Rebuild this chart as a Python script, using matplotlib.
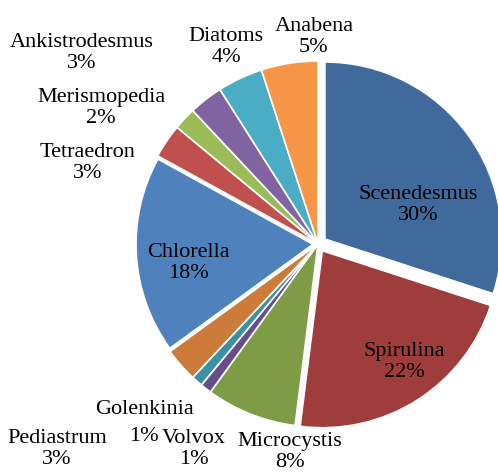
import matplotlib
matplotlib.use("Agg")
import matplotlib.pyplot as plt

categories = ["Scenedesmus", "Spirulina", "Microcystis", "Volvox", "Golenkinia",
              "Pediastrum", "Chlorella", "Tetraedron", "Merismopedia",
              "Ankistrodesmus", "Diatoms", "Anabena"]
values = [30, 22, 8, 1, 1, 3, 18, 3, 2, 3, 4, 5]
colors = ["#3F6A9B", "#9E3D3B", "#7E9B46", "#674E8A", "#3B90A6", "#CC7C38",
          "#4F81BD", "#C0504D", "#9BBB59", "#8064A2", "#4BACC6", "#F79646"]
# explode offsets (pixels)
explode_px = [8.5, 8.0, 0, 0, 0, 0, 5.0, 0, 0, 0, 0, 0]

# label line positions (pixel coords from top-left), layout only
label_pos = {
    "Scenedesmus": (418, 205), "Spirulina": (404, 362), "Microcystis": (290, 452),
    "Volvox": (194, 449), "Pediastrum": (57, 449),
    "Chlorella": (188, 263), "Tetraedron": (88, 163), "Merismopedia": (101, 108),
    "Ankistrodesmus": (82, 53), "Diatoms": (226, 47), "Anabena": (314, 37),
}
golenkinia_pos = [(145, 409), (144, 436)]

W, H = 498, 473
FS = 16
FONT = "Liberation Serif"
fig = plt.figure(figsize=(W / 100, H / 100), dpi=100)
ax = fig.add_axes([0, 0, 1, 1])

R = 183
R_exploded = 177
cx, cy = 318, H - 244
wedges, _ = ax.pie(values, colors=colors, explode=explode_px, radius=R,
                   center=(cx, cy), startangle=90, counterclock=False,
                   wedgeprops=dict(edgecolor="white", linewidth=1.2), frame=True)
for w, e in zip(wedges, explode_px):
    if e > 0:
        w.set_radius(R_exploded)
ax.set_xlim(0, W)
ax.set_ylim(0, H)
ax.set_aspect("equal")
ax.axis("off")

for cat, v in zip(categories, values):
    if cat == "Golenkinia":
        (x1, y1), (x2, y2) = golenkinia_pos
        ax.text(x1, H - y1, cat, ha="center", va="center", fontsize=FS, family=FONT)
        ax.text(x2, H - y2, f"{v}%", ha="center", va="center", fontsize=FS, family=FONT)
        continue
    x, y = label_pos[cat]
    ax.text(x, H - y, f"{cat}\n{v}%", ha="center", va="center", fontsize=FS,
            family=FONT, linespacing=1.1)

fig.savefig("out.png", dpi=100)
